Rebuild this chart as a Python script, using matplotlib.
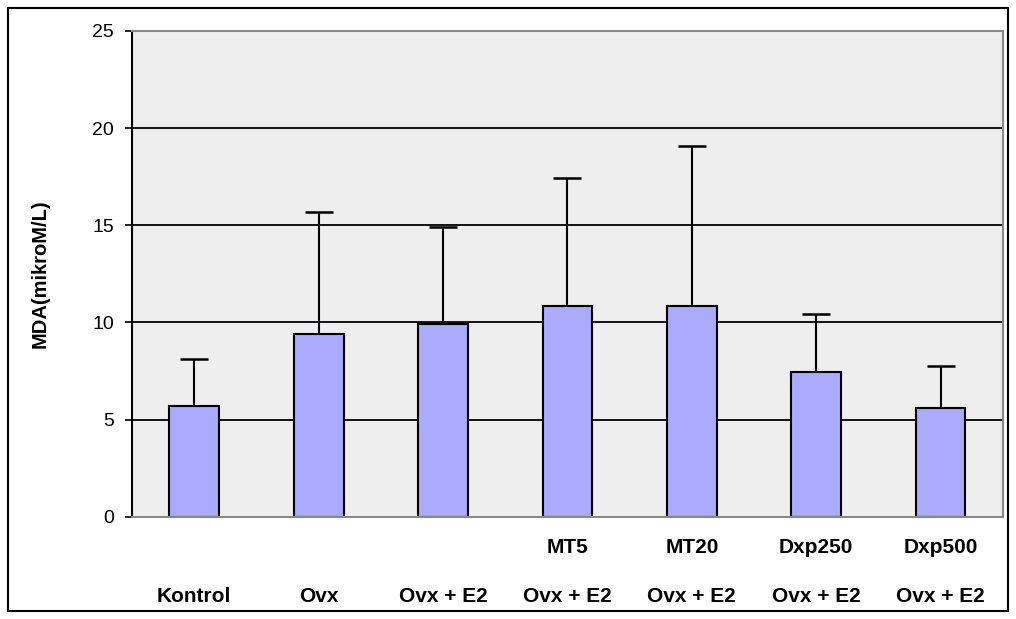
import matplotlib
matplotlib.use("Agg")
import matplotlib.pyplot as plt
from matplotlib.patches import Rectangle
import matplotlib.transforms as mtransforms

plt.rcParams['font.family'] = ['Liberation Sans', 'DejaVu Sans']

top_labels = ["", "", "", "MT5", "MT20", "Dxp250", "Dxp500"]
bottom_labels = ["Kontrol", "Ovx", "Ovx + E2", "Ovx + E2", "Ovx + E2", "Ovx + E2", "Ovx + E2"]
means = [5.7, 9.4, 9.9, 10.85, 10.85, 7.45, 5.6]
errors = [2.4, 6.3, 5.0, 6.6, 8.25, 3.0, 2.15]
yticks = [0, 5, 10, 15, 20, 25]

fig = plt.figure(figsize=(10.16, 6.19), dpi=100)
ax = fig.add_axes([0.130, 0.165, 0.857, 0.785])
ax.set_facecolor('#EEEEEE')

x = list(range(len(means)))
ax.set_axisbelow(True)
ax.yaxis.grid(True, color='black', linewidth=1.3)
ax.bar(x, means, width=0.4, color='#AAAAFF', edgecolor='black', linewidth=1.5, zorder=2)
eb = ax.errorbar(x, means, yerr=[[0]*len(errors), errors], fmt='none', ecolor='black',
                 elinewidth=1.5, capsize=10, capthick=1.8, zorder=3)
eb[1][0].set_visible(False)

ax.set_xlim(-0.5, len(means) - 0.5)
ax.set_ylim(0, 25)
ax.set_yticks(yticks)
ax.tick_params(axis='y', direction='out', length=5, width=1.2, labelsize=14, pad=8)
ax.set_xticks(x)
ax.set_xticklabels([])
ax.tick_params(axis='x', length=0)

trans = mtransforms.blended_transform_factory(ax.transData, ax.transAxes)
for xi, lab in zip(x, top_labels):
    if lab:
        ax.text(xi, -31 / 486, lab, transform=trans, ha='center', va='center',
                fontweight='bold', fontsize=15)
for xi, lab in zip(x, bottom_labels):
    ax.text(xi, -80 / 486, lab, transform=trans, ha='center', va='center',
            fontweight='bold', fontsize=15)

ax.spines['left'].set_color('black')
ax.spines['left'].set_linewidth(1.5)
for s in ['top', 'right', 'bottom']:
    ax.spines[s].set_color('#888888')
    ax.spines[s].set_linewidth(1.5)

ax.set_ylabel('MDA(mikroM/L)', fontweight='bold', fontsize=14.5)
ax.yaxis.set_label_coords(-82 / 871, 0.5)

fig.patches.append(Rectangle((8 / 1016, 8 / 619), 1 - 16 / 1016, 1 - 16 / 619,
                             transform=fig.transFigure, fill=False,
                             edgecolor='black', linewidth=1.5))

fig.savefig('out.png', dpi=100)
